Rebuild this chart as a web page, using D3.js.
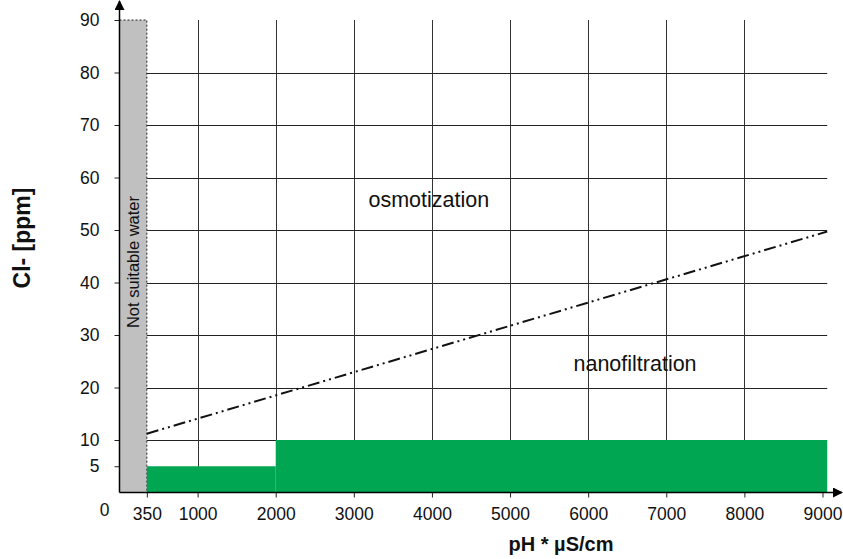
<!DOCTYPE html>
<html>
<head>
<meta charset="utf-8">
<script src="https://cdn.jsdelivr.net/npm/d3@7"></script>
<style>
  body { margin: 0; background: #fff; }
  svg { display: block; font-family: "Liberation Sans", Arial, sans-serif; }
  .tick text { font-size: 17.5px; fill: #111; }
</style>
</head>
<body>
<svg width="843" height="559"></svg>
<script>
// ---- data ----
const xTicks = [0, 350, 1000, 2000, 3000, 4000, 5000, 6000, 7000, 8000, 9000];
const yTicks = [5, 10, 20, 30, 40, 50, 60, 70, 80, 90];
const gridX = [1000, 2000, 3000, 4000, 5000, 6000, 7000, 8000];
const gridY = [10, 20, 30, 40, 50, 60, 70, 80];
const xEnd = 9060;           // right edge of the drawing area
const unsuitable = [0, 350]; // grey band, Cl- 0..90
const greenFrom = [350, 2000];
const greenTo = [2000, 9060];
const greenTop = [5, 10];
const limitLine = [[350, 11.2], [9060, 49.7]];
const zoneNames = ['osmotization', 'nanofiltration'];
const zoneX = [3960, 6600];
const zoneY = [54.4, 23.1];

const svg = d3.select('svg');

const x = d3.scaleLinear().domain([0, 9000]).range([119.5, 822.5]);
const y = d3.scaleLinear().domain([0, 90]).range([492.5, 20]);

// grey "not suitable" band
svg.append('rect')
  .attr('x', x(unsuitable[0]))
  .attr('y', y(90))
  .attr('width', x(unsuitable[1]) - x(unsuitable[0]))
  .attr('height', y(0) - y(90))
  .attr('fill', '#c0c0c0')
  .attr('stroke', '#222')
  .attr('stroke-width', 1)
  .attr('stroke-dasharray', '2,2');

svg.append('text')
  .attr('transform', `translate(${(x(unsuitable[0]) + x(unsuitable[1])) / 2 + 5.5},${y(43.9)}) rotate(-90)`)
  .attr('text-anchor', 'middle')
  .attr('font-size', 16.5)
  .attr('fill', '#111')
  .text('Not suitable water');

// grid
svg.append('g').selectAll('line').data(gridY).enter().append('line')
  .attr('x1', x(350)).attr('x2', x(xEnd))
  .attr('y1', d => Math.round(y(d)) + 0.5).attr('y2', d => Math.round(y(d)) + 0.5)
  .attr('stroke', '#222').attr('stroke-width', 1);

svg.append('g').selectAll('line').data(gridX).enter().append('line')
  .attr('x1', d => Math.round(x(d)) + 0.5).attr('x2', d => Math.round(x(d)) + 0.5)
  .attr('y1', y(90)).attr('y2', y(0))
  .attr('stroke', '#333').attr('stroke-width', 1);

// green areas
svg.append('g').selectAll('rect').data(greenTop).enter().append('rect')
  .attr('x', (d, i) => x(greenFrom[i]))
  .attr('width', (d, i) => x(greenTo[i]) - x(greenFrom[i]))
  .attr('y', d => y(d))
  .attr('height', d => y(0) - y(d))
  .attr('fill', '#00a651');

// limit line osmosis / nanofiltration
svg.append('path')
  .datum(limitLine)
  .attr('d', d3.line().x(d => x(d[0])).y(d => y(d[1])))
  .attr('fill', 'none')
  .attr('stroke', '#111')
  .attr('stroke-width', 2)
  .attr('stroke-dasharray', '12,4,2,4,2,4');

// zone labels
svg.append('g').selectAll('text').data(zoneNames).enter().append('text')
  .attr('x', (d, i) => x(zoneX[i]))
  .attr('y', (d, i) => y(zoneY[i]))
  .attr('text-anchor', 'middle')
  .attr('font-size', 21.5)
  .attr('fill', '#111')
  .text(d => d);

// axes
const xAxis = svg.append('g')
  .attr('transform', `translate(0,${y(0)})`)
  .call(d3.axisBottom(x).tickValues(xTicks.filter(d => d > 0)).tickSize(5).tickPadding(10).tickFormat(d3.format('d')));
xAxis.select('.domain').remove();
xAxis.selectAll('.tick line').attr('stroke', '#222');

const yAxis = svg.append('g')
  .attr('transform', `translate(${x(0)},0)`)
  .call(d3.axisLeft(y).tickValues(yTicks).tickSize(5).tickPadding(15));
yAxis.select('.domain').remove();
yAxis.selectAll('.tick line').attr('stroke', '#222');

// origin label
svg.append('text')
  .attr('x', x(0) - 15)
  .attr('y', y(0) + 23)
  .attr('text-anchor', 'middle')
  .attr('font-size', 17.5)
  .attr('fill', '#111')
  .text(xTicks[0]);

// axis lines with arrows
const defs = svg.append('defs');
defs.append('marker')
  .attr('id', 'arrow')
  .attr('viewBox', '0 0 10 10')
  .attr('refX', 9).attr('refY', 5)
  .attr('markerWidth', 10).attr('markerHeight', 10)
  .attr('markerUnits', 'userSpaceOnUse')
  .attr('orient', 'auto')
  .append('path')
  .attr('d', 'M0,0L10,5L0,10Z')
  .attr('fill', '#000');

svg.append('line')
  .attr('x1', x(0)).attr('x2', 842)
  .attr('y1', y(0)).attr('y2', y(0))
  .attr('stroke', '#000').attr('stroke-width', 1.5)
  .attr('marker-end', 'url(#arrow)');

svg.append('line')
  .attr('x1', x(0)).attr('x2', x(0))
  .attr('y1', y(0)).attr('y2', 1)
  .attr('stroke', '#000').attr('stroke-width', 1.5)
  .attr('marker-end', 'url(#arrow)');

// axis titles
svg.append('text')
  .attr('x', 561)
  .attr('y', 551)
  .attr('text-anchor', 'middle')
  .attr('font-size', 20)
  .attr('font-weight', 'bold')
  .attr('fill', '#111')
  .text('pH * µS/cm');

svg.append('text')
  .attr('transform', `translate(30,238) rotate(-90)`)
  .attr('text-anchor', 'middle')
  .attr('font-size', 23)
  .attr('font-weight', 'bold')
  .attr('fill', '#111')
  .text('Cl- [ppm]');
</script>
</body>
</html>
